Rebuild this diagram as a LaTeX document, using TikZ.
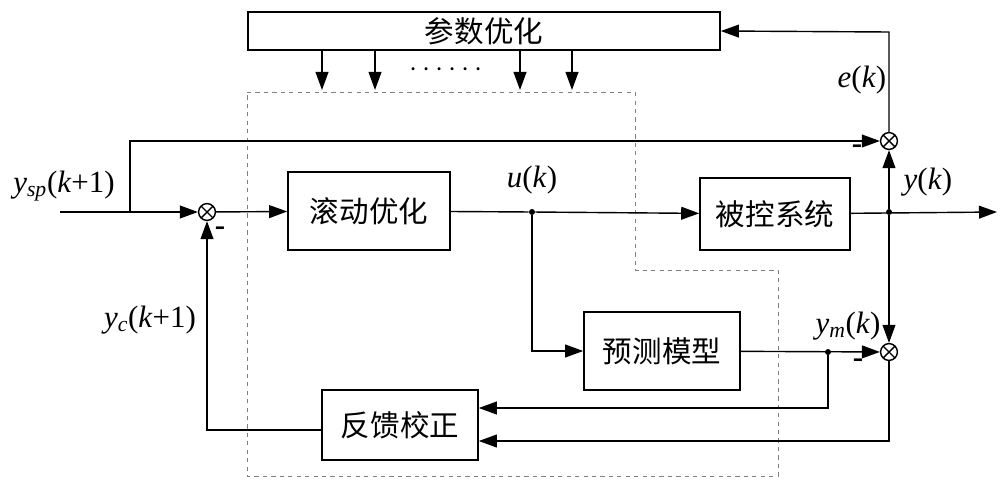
\documentclass[tikz,border=0pt]{standalone}
\usepackage{fontspec}
\setmainfont{Liberation Serif}
\newfontfamily\cjk{Noto Sans CJK SC}
\usetikzlibrary{arrows.meta}
\tikzset{blk/.style={draw, line width=1.1pt, font=\cjk\fontsize{21}{24}\selectfont}}
\tikzset{sumnode/.style={draw, circle, minimum size=0.42cm, inner sep=0pt, line width=1pt,
  path picture={\draw[line width=1pt] (path picture bounding box.south west) -- (path picture bounding box.north east)
    (path picture bounding box.north west) -- (path picture bounding box.south east);}}}
\tikzset{sig/.style={-{Triangle[length=0.45cm,width=0.32cm]}, line width=1pt}}
\tikzset{lbl/.style={font=\fontsize{22}{26}\selectfont}}
\tikzset{dot/.style={circle, fill, inner sep=1.5pt}}
\newcommand{\ik}{\textit{k}}
\begin{document}
\begin{tikzpicture}[x=0.025cm, y=-0.025cm]
\useasboundingbox (0,0) rectangle (1000,487);

\node[blk, minimum width=11.8cm, minimum height=0.95cm] (popt) at (484,31) {参数优化};
\node[blk, minimum width=4.05cm, minimum height=1.95cm] (roll) at (369,211) {滚动优化};
\node[blk, minimum width=3.75cm, minimum height=1.8cm] (plant) at (775,214) {被控系统};
\node[blk, minimum width=3.9cm, minimum height=1.95cm] (pred) at (662,351) {预测模型};
\node[blk, minimum width=3.9cm, minimum height=1.75cm] (fb) at (400,425) {反馈校正};

\node[sumnode] (s1) at (207,212) {};
\node[sumnode] (s2) at (889,141) {};
\node[sumnode] (s3) at (889,352) {};

\coordinate (in) at (60,212);
\coordinate (br) at (130,212);
\coordinate (out) at (997,212);
\node[dot] (u) at (532,212) {};
\node[dot] (y) at (889,212) {};
\node[dot] (ym) at (828,352) {};

% dashed region
\draw[dashed, gray, line width=0.6pt] (247,92) -- (635,92) -- (635,270) -- (778,270)
  -- (778,476) -- (247,476) -- cycle;

% parameter arrows
\foreach \xx in {322,375,520,572}
  \draw[sig] (\xx,50) -- (\xx,90);
\node[lbl] (dots) at (446,70) {$\cdots\cdots$};

% signals
\draw[line width=1pt] (in) -- (br);
\draw[sig] (br) -- (s1);
\draw[sig] (br) -- (130,141) -- (s2);
\draw[sig] (s1) -- (roll);
\draw[line width=1pt] (roll) -- (u);
\draw[sig] (u) -- (plant);
\draw[sig] (plant) -- (out);
\draw[sig] (y) -- (s2);
\draw[sig] (y) -- (s3);
\draw[sig] (s2) -- (889,32) -- (popt.east);
\draw[sig] (u) |- (pred);
\draw[sig] (pred) -- (s3);
\draw[sig] (ym) |- (fb.east |- 0,408);
\draw[sig] (s3) |- (fb.east |- 0,441);
\draw[sig] (fb.west |- 0,430) -| (s1);

% labels
\node[lbl] (lysp) at (64,186) {\textit{y}\textsubscript{\textit{sp}}(\ik+1)};
\node[lbl] (lyc) at (150,320) {\textit{y}\textsubscript{\textit{c}}(\ik+1)};
\node[lbl] (lu) at (532,180) {\textit{u}(\ik)};
\node[lbl] (ly) at (928,182) {\textit{y}(\ik)};
\node[lbl] (lym) at (848,326) {\textit{y}\textsubscript{\textit{m}}(\ik)};
\node[lbl] (le) at (862,80) {\textit{e}(\ik)};
\node[lbl] (m1) at (220,231) {\textbf{-}};
\node[lbl] (m2) at (857,149) {\textbf{-}};
\node[lbl] (m3) at (858,363) {\textbf{-}};
\end{tikzpicture}
\end{document}
